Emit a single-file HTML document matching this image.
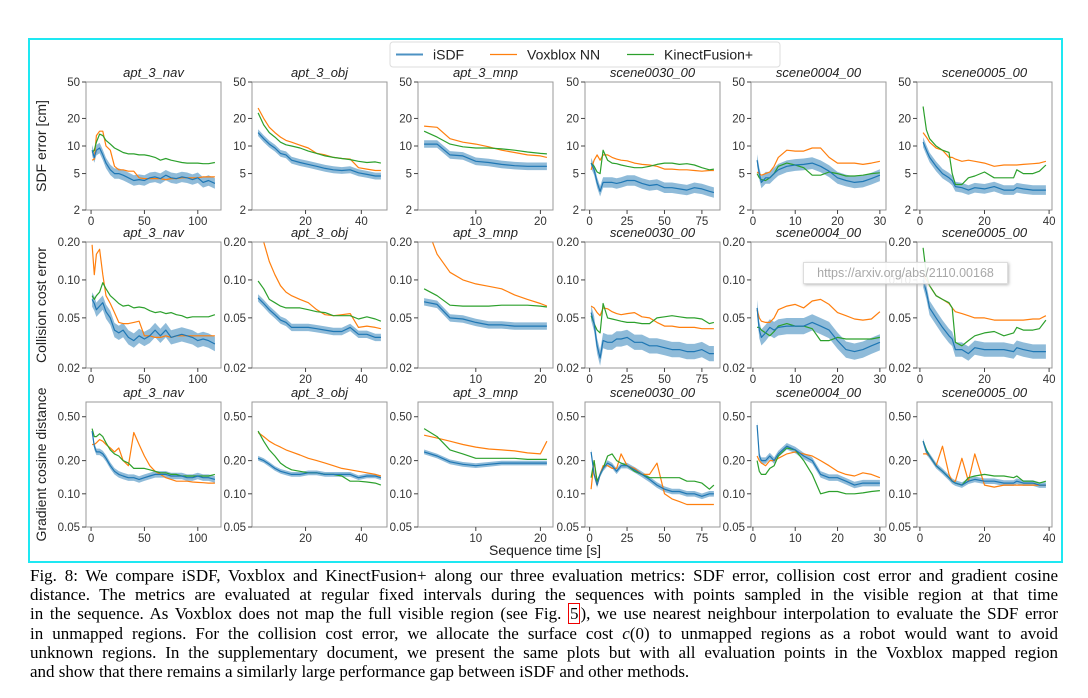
<!DOCTYPE html>
<html><head><meta charset="utf-8">
<style>
body{margin:0;background:#fff;width:1088px;height:698px;overflow:hidden;position:relative;font-family:"Liberation Sans",sans-serif}
#frame{position:absolute;left:28px;top:38px;width:1031px;height:521px;border:2px solid #1ee8f2}
#cap{position:absolute;left:30px;top:566px;width:1028px;font-family:"Liberation Serif",serif;font-size:17px;color:#000;line-height:19.2px}
#cap div{text-align:justify;text-align-last:justify;white-space:nowrap;overflow:visible;height:19.2px}
#cap div.last{text-align-last:left}
.ref{border:1.3px solid #e00;padding:0 1px;color:#000}
#wm{position:absolute;left:803px;top:262px;width:203px;height:20px;background:rgba(255,255,255,.9);border:1px solid #ddd;box-shadow:1px 1px 3px #bbb;font-size:12.5px;color:#a8a8a8;line-height:20px;text-align:center}
</style></head><body>
<div id="frame"></div>
<svg id="fig" width="1088" height="698" style="position:absolute;left:0;top:0"></svg>
<div id="wm">https://arxiv.org/abs/2110.00168</div>
<div id="cap">
<div>Fig. 8: We compare iSDF, Voxblox and KinectFusion+ along our three evaluation metrics: SDF error, collision cost error and gradient cosine</div>
<div>distance. The metrics are evaluated at regular fixed intervals during the sequences with points sampled in the visible region at that time</div>
<div>in the sequence. As Voxblox does not map the full visible region (see Fig. <span class="ref">5</span>), we use nearest neighbour interpolation to evaluate the SDF error</div>
<div>in unmapped regions. For the collision cost error, we allocate the surface cost <i>c</i>(0) to unmapped regions as a robot would want to avoid</div>
<div>unknown regions. In the supplementary document, we present the same plots but with all evaluation points in the Voxblox mapped region</div>
<div class="last">and show that there remains a similarly large performance gap between iSDF and other methods.</div>
</div>
<script>
const sceneNames=["apt_3_nav","apt_3_obj","apt_3_mnp","scene0030_00","scene0004_00","scene0005_00"];
const metricLabels=["SDF error [cm]","Collision cost error","Gradient cosine distance"];
const seriesNames=["iSDF","Voxblox NN","KinectFusion+"];
const yTicks=[[2,5,10,20,50],[0.02,0.05,0.10,0.20],[0.05,0.10,0.20,0.50]];
const yTickLabels=[["2","5","10","20","50"],["0.02","0.05","0.10","0.20"],["0.05","0.10","0.20","0.50"]];
const xTicks=[[0,50,100],[20,40],[10,20],[0,25,50,75],[0,10,20,30],[0,20,40]];
const times=[
[1,3,5,8,11,14,18,22,26,30,35,40,45,50,55,60,65,70,75,80,85,90,95,100,105,110,116],
[3,5,7,9,11,13,15,18,21,24,27,30,33,36,39,42,45,47],
[2,4,6,8,10,12,14,16,18,20,21],
[1,3,5,7,9,12,15,18,21,25,30,35,40,45,50,55,60,65,70,75,80,83],
[1,1.5,2,3,4,5,6,8,10,12,14,16,18,20,22,24,26,28,30],
[1,2,3,5,7,9,10,11,13,15,17,20,23,26,29,30,32,35,37,39]];
const sdfIsdf=[
[9,7.5,9,9.5,8,6.5,5.5,5,5,4.8,4.5,4.2,4.3,4.2,4.5,4.6,4.4,4.8,4.5,4.4,4.6,4.5,4.3,4.5,4,4.2,3.9],
[14,12,10.5,9.5,8.3,8,7,6.6,6.3,6,5.7,5.5,5.4,5.5,5.1,4.9,4.7,4.7],
[10.5,10.5,8,7.8,6.8,6.6,6.3,6.1,6,6,6],
[6.5,5.5,4,3.2,4,4,4,3.9,4,4.2,4.2,3.9,3.7,3.8,3.5,3.5,3.4,3.3,3.5,3.4,3.2,3.1],
[7,5,4,4.5,4.5,5,5.5,6,6.2,6.3,6.5,6,5.3,4.5,4.2,4,4.1,4.4,4.8],
[11,9,7.5,6,5,4.5,4.2,3.6,3.5,3.3,3.5,3.4,3.6,3.3,3.3,3.5,3.4,3.3,3.3,3.3]];
const sdfVox=[
[7,7.2,13,14.5,14.5,10,9,6,5.5,5.5,5.3,5.3,4.5,4.4,4.4,4.4,4.4,4.3,4.4,4.4,4.5,4.5,4.5,4.5,4.6,4.6,4.6],
[26,20,16,14,12.5,11.5,11,10.2,9.5,8.3,8,7.5,7.3,7.2,5.8,5.6,5.4,5.4],
[16.5,16,12,11,10.5,9.8,9,8.5,8,7.8,7.5],
[5.5,7,8,7,8,8,7.5,7.2,7,6.9,6.5,6.3,6.2,6,5.6,5.6,5.5,5.5,5.4,5.3,5.4,5.4],
[5.2,5,4.8,5,5.2,6,7.5,9,8.8,8.8,9.5,9.5,7.5,6.5,6.5,6.5,6.3,6.5,6.8],
[14,12.5,11,9.5,9,7.5,7.5,7.2,6.8,7,6.8,6.5,6,6.2,6.2,6.2,6.3,6.4,6.5,6.8]];
const sdfKf=[
[8.5,9,11,13.5,13,11.5,10.5,9.5,9,8.5,8.2,8.2,8,8,7.8,7.5,7,7.3,7,6.8,6.6,6.5,6.5,6.5,6.4,6.4,6.6],
[23,17,14,12.5,11,10.3,10,9.5,8.8,8.3,7.8,7.5,7.3,7.1,6.8,6.6,6.7,6.5],
[14.5,12.5,10.5,9.8,9.5,9.5,9.3,9,8.6,8.3,8.2],
[6.5,6,5.2,5,9,7,6.5,6.4,6.2,6,5.8,5.8,6,6.3,6.5,6.5,6.3,6.4,6.2,5.8,5.5,5.6],
[5,4.5,4.3,4.2,4.5,5,6,6.5,6.2,5.8,4.8,4.8,5.2,5,4.7,4.7,4.8,5,5.1],
[27,15,12,10,9,8.5,5,3.8,3.8,4.5,4.7,5.2,4.5,4.5,4.5,5.5,5,5,5.3,6.2]];
const colIsdf=[
[.07,.065,.058,.062,.066,.056,.05,.04,.038,.04,.035,.033,.036,.034,.036,.04,.036,.04,.035,.036,.037,.036,.035,.033,.034,.033,.031],
[.072,.065,.058,.053,.048,.046,.042,.042,.042,.041,.04,.039,.039,.042,.037,.037,.035,.035],
[.067,.064,.05,.049,.046,.044,.044,.043,.043,.043,.043],
[.055,.045,.03,.024,.033,.032,.032,.034,.034,.035,.032,.032,.03,.03,.029,.028,.028,.027,.027,.028,.026,.026],
[.06,.04,.035,.038,.042,.04,.042,.043,.043,.043,.046,.043,.04,.033,.028,.027,.028,.03,.032],
[.1,.08,.06,.05,.042,.036,.034,.028,.028,.026,.029,.028,.028,.028,.027,.029,.028,.027,.027,.027]];
const colVox=[
[.19,.11,.16,.175,.11,.075,.065,.055,.046,.045,.045,.046,.047,.036,.036,.035,.035,.036,.035,.036,.036,.036,.036,.036,.036,.036,.036],
[.3,.2,.14,.11,.09,.08,.075,.07,.066,.058,.053,.052,.053,.054,.042,.043,.042,.041],
[.3,.16,.115,.1,.093,.089,.085,.076,.07,.065,.062],
[.062,.06,.055,.052,.06,.059,.056,.054,.053,.054,.055,.051,.05,.046,.043,.043,.042,.042,.042,.041,.041,.041],
[.058,.05,.047,.046,.046,.05,.058,.062,.064,.06,.068,.07,.064,.055,.052,.049,.048,.049,.056],
[.11,.1,.09,.075,.07,.065,.06,.056,.054,.052,.05,.05,.048,.048,.048,.048,.048,.049,.049,.052]];
const colKf=[
[.075,.07,.075,.08,.095,.085,.075,.07,.065,.062,.063,.06,.061,.06,.057,.055,.056,.054,.055,.053,.052,.05,.051,.051,.051,.051,.053],
[.098,.085,.07,.066,.062,.06,.06,.06,.058,.056,.055,.052,.052,.052,.049,.051,.049,.047],
[.085,.075,.063,.062,.062,.062,.063,.063,.063,.062,.061],
[.052,.045,.04,.038,.065,.05,.049,.048,.047,.046,.046,.045,.045,.05,.051,.052,.051,.05,.05,.049,.045,.046],
[.042,.042,.04,.038,.036,.039,.043,.045,.043,.043,.041,.033,.033,.035,.034,.034,.034,.034,.035],
[.18,.11,.09,.075,.07,.066,.06,.032,.03,.033,.036,.038,.039,.036,.038,.042,.04,.04,.041,.048]];
const gradIsdf=[
[.37,.27,.24,.24,.23,.21,.18,.16,.15,.145,.14,.14,.135,.14,.145,.15,.15,.15,.145,.145,.145,.14,.14,.145,.14,.14,.135],
[.21,.2,.185,.17,.16,.155,.15,.15,.155,.155,.15,.15,.15,.15,.14,.145,.145,.14],
[.24,.22,.195,.185,.18,.185,.19,.19,.19,.19,.19],
[.24,.15,.12,.15,.17,.19,.18,.16,.18,.18,.165,.15,.135,.12,.11,.105,.105,.1,.1,.095,.1,.1],
[.42,.22,.2,.2,.22,.2,.23,.27,.25,.22,.2,.15,.14,.14,.13,.12,.125,.125,.125],
[.3,.24,.22,.18,.16,.14,.13,.125,.12,.13,.135,.13,.13,.125,.125,.13,.125,.125,.12,.12]];
const gradVox=[
[.28,.28,.29,.31,.3,.28,.26,.24,.26,.2,.18,.36,.28,.22,.18,.16,.15,.14,.135,.13,.13,.13,.128,.127,.126,.125,.125],
[.36,.33,.3,.28,.265,.25,.24,.225,.21,.2,.19,.18,.17,.165,.16,.155,.15,.145],
[.34,.32,.3,.28,.265,.255,.25,.245,.235,.23,.3],
[.11,.2,.12,.15,.18,.18,.17,.17,.23,.18,.17,.15,.15,.19,.1,.09,.085,.08,.08,.08,.08,.08],
[.22,.2,.19,.18,.2,.2,.21,.23,.24,.23,.22,.2,.18,.16,.15,.145,.155,.15,.14],
[.23,.23,.22,.18,.27,.15,.13,.13,.21,.13,.23,.12,.115,.12,.12,.12,.12,.12,.12,.12]];
const gradKf=[
[.39,.33,.33,.35,.33,.29,.25,.23,.22,.2,.19,.17,.17,.17,.165,.16,.155,.155,.15,.15,.145,.145,.145,.145,.145,.145,.15],
[.37,.3,.25,.22,.19,.175,.165,.16,.155,.155,.15,.15,.145,.13,.13,.128,.125,.12],
[.39,.33,.25,.23,.21,.21,.21,.21,.205,.205,.205],
[.14,.2,.13,.15,.17,.22,.23,.2,.19,.18,.16,.15,.14,.14,.14,.14,.14,.13,.13,.125,.11,.12],
[.2,.16,.15,.15,.17,.18,.22,.26,.25,.2,.15,.1,.105,.105,.1,.1,.102,.105,.107],
[.3,.25,.22,.18,.16,.14,.13,.125,.12,.14,.145,.15,.145,.145,.14,.145,.13,.13,.125,.13]];
const bandRel=[[0.14,0.09,0.1,0.14,0.16,0.13],[0.14,0.07,0.07,0.15,0.16,0.14],[0.07,0.05,0.05,0.06,0.07,0.06]];

const NS="http://www.w3.org/2000/svg";
const svg=document.getElementById('fig');
function mk(tag,attrs,parent){const e=document.createElementNS(NS,tag);for(const k in attrs)e.setAttribute(k,attrs[k]);(parent||svg).appendChild(e);return e;}
const colLeft=[86,252,418,585,751,917];const W=135;
const rowTop=[82,242,402];const rowBot=[210,368,527];
const yDom=[[2,50],[0.02,0.2],[0.05,0.68]];
const C=["#1f77b4","#ff7f0e","#2ca02c"];
const rows=[[sdfIsdf,sdfVox,sdfKf],[colIsdf,colVox,colKf],[gradIsdf,gradVox,gradKf]];

for(let r=0;r<3;r++){
  for(let c=0;c<6;c++){
    const L=colLeft[c],T=rowTop[r],B=rowBot[r];
    const t=times[c];const tmin=Math.min(...t),tmax=Math.max(...t),pad=(tmax-tmin)*0.05;
    const xs=v=>L+(v-(tmin-pad))/((tmax+pad)-(tmin-pad))*W;
    const [d0,d1]=yDom[r];
    const ys=v=>B-(Math.log(v)-Math.log(d0))/(Math.log(d1)-Math.log(d0))*(B-T);
    const g=mk('g',{});
    
    
    const clipId='clip'+r+'_'+c;
    const cp=mk('clipPath',{id:clipId},g);mk('rect',{x:L,y:T,width:W,height:B-T},cp);
    const pg=mk('g',{'clip-path':'url(#'+clipId+')'},g);
    const isdf=rows[r][0][c];const k=bandRel[r][c];
    let up=t.map((v,i)=>xs(v).toFixed(1)+','+ys(isdf[i]*(1+k)).toFixed(1));
    let lo=t.map((v,i)=>xs(v).toFixed(1)+','+ys(isdf[i]/(1+k)).toFixed(1)).reverse();
    const band=mk('polygon',{points:up.concat(lo).join(' '),fill:'#1f77b4','fill-opacity':0.5,stroke:'none'},pg);
    
    
    for(const s of [1,2,0]){
      const vals=rows[r][s][c];
      const pl=mk('polyline',{points:t.map((v,i)=>xs(v).toFixed(1)+','+ys(vals[i]).toFixed(1)).join(' '),fill:'none',stroke:C[s],'stroke-width':1.2,'stroke-linejoin':'round'},pg);
      
      
    }
    const ax=mk('rect',{x:L,y:T,width:W,height:B-T,fill:'none',stroke:'#999','stroke-width':1},g);
    
    
    const tt=mk('text',{x:L+W/2,y:T-5,'text-anchor':'middle','font-size':13,'font-style':'italic',fill:'#222'},g);
    tt.textContent=sceneNames[c];
    
    
    yTicks[r].forEach((v,i)=>{const y=ys(v);mk('line',{x1:L-4,x2:L,y1:y,y2:y,stroke:'#444'},g);
      const lt=mk('text',{x:L-6,y:y+4,'text-anchor':'end','font-size':11.5,fill:'#333'},g);lt.textContent=yTickLabels[r][i];
      
      });
    xTicks[c].forEach(v=>{const x=xs(v);mk('line',{x1:x,x2:x,y1:B,y2:B+4,stroke:'#444'},g);
      const lt=mk('text',{x:x,y:B+15,'text-anchor':'middle','font-size':11.5,fill:'#333'},g);lt.textContent=String(v);
      
      });
  }
  const yl=mk('text',{x:0,y:0,transform:'translate(46,'+((rowTop[r]+rowBot[r])/2)+') rotate(-90)','text-anchor':'middle','font-size':14,fill:'#222'});
  yl.textContent=metricLabels[r];
  
  
}
const xl=mk('text',{x:545,y:555,'text-anchor':'middle','font-size':14,fill:'#222'});
xl.textContent='Sequence time [s]';


const lg=mk('g',{});


mk('rect',{x:390,y:42,width:390,height:25,rx:3,fill:'#fff',stroke:'#ddd'},lg);
const lx=[396,490,627];
seriesNames.forEach((n,i)=>{
  const e=mk('g',{},lg);
  
  
  mk('line',{x1:lx[i],x2:lx[i]+27,y1:54.5,y2:54.5,stroke:C[i],'stroke-width':i==0?2:1.3,'stroke-opacity':i==0?0.8:1},e);
  const tx=mk('text',{x:lx[i]+37,y:59.5,'font-size':14,fill:'#222'},e);tx.textContent=n;
});
</script>
</body></html>
